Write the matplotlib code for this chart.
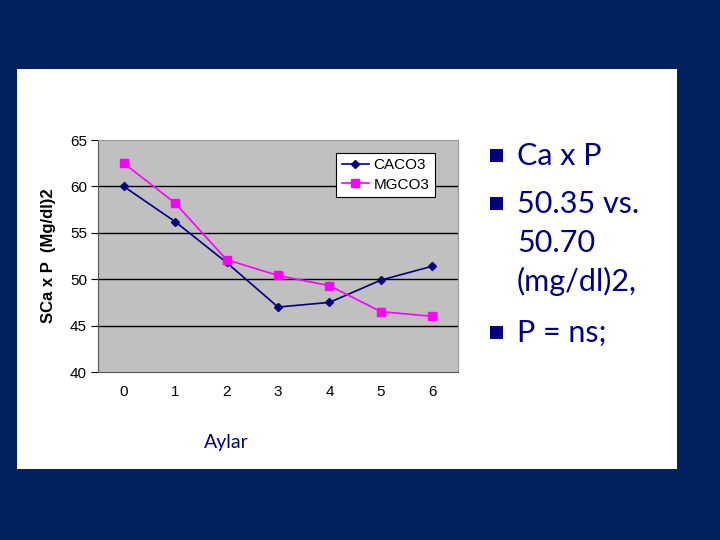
import matplotlib.pyplot as plt
from matplotlib.patches import Rectangle

# data
years = [0, 1, 2, 3, 4, 5, 6]
caco3 = [60.0, 56.2, 51.8, 47.0, 47.5, 49.9, 51.4]
mgco3 = [62.5, 58.2, 52.1, 50.4, 49.3, 46.5, 46.0]
yticks = [40, 45, 50, 55, 60, 65]
bullets = [['Ca x P'], ['50.35 vs.', '50.70', '(mg/dl)2,'], ['P = ns;']]

navy = '#000080'
slide_bg = '#002060'
plt.rcParams['font.family'] = ['Liberation Sans', 'DejaVu Sans']

fig = plt.figure(figsize=(7.2, 5.4), dpi=100)
fig.patch.set_facecolor(slide_bg)

# white panel the chart sits on
fig.patches.append(Rectangle((17/720, 1-469/540), 660/720, 400/540,
                             transform=fig.transFigure, facecolor='white',
                             edgecolor='none', zorder=-5))

ax = fig.add_axes([98/720, 1-372/540, 360/720, 232/540])
ax.set_facecolor('#c0c0c0')
ax.plot(years, caco3, color=navy, marker='D', markersize=4, linewidth=1.2,
        label='CACO3', zorder=3)
ax.plot(years, mgco3, color='#ff00ff', marker='s', markersize=6, linewidth=1.2,
        label='MGCO3', zorder=3)

ax.set_xlim(-0.5, 6.5)
ax.set_ylim(40, 65)
ax.set_xticks(years)
ax.set_yticks(yticks)
for y in yticks[1:-1]:
    ax.axhline(y, color='black', linewidth=1.0, zorder=1)
ax.tick_params(axis='both', labelsize=11, colors='black', length=5, pad=3)
ax.tick_params(axis='x', length=0, pad=9)
for s in ['top', 'right']:
    ax.spines[s].set_color('#999999')
ax.spines['left'].set_color('#555555')
ax.spines['bottom'].set_color('#555555')

ax.set_ylabel('SCa x P  (Mg/dl)2', fontsize=12, fontweight='bold', labelpad=10)

leg = ax.legend(loc='upper right', bbox_to_anchor=(0.936, 0.944), fontsize=11,
                fancybox=False, framealpha=1, edgecolor='black',
                handlelength=1.8, handletextpad=0.3, borderpad=0.35,
                labelspacing=0.35, borderaxespad=0)
leg.get_frame().set_linewidth(0.8)

fig.text(226/720, 1-448/540, 'Aylar', fontsize=14, color=navy,
         ha='center', va='baseline', family='Lato')

# bullet list on the right, baselines in pixels from the top
baselines = [[165], [213, 252, 291], [342]]
for lines, bl in zip(bullets, baselines):
    y0 = bl[0] - 10
    fig.patches.append(Rectangle((490/720, 1-(y0+7)/540), 13/720, 13/540,
                                 transform=fig.transFigure, facecolor=navy,
                                 edgecolor='none'))
    for line, y in zip(lines, bl):
        fig.text(517/720, 1-y/540, line, fontsize=22, color=navy,
                 ha='left', va='baseline', family='Lato')

fig.savefig('out.png', dpi=100, facecolor=fig.get_facecolor())
